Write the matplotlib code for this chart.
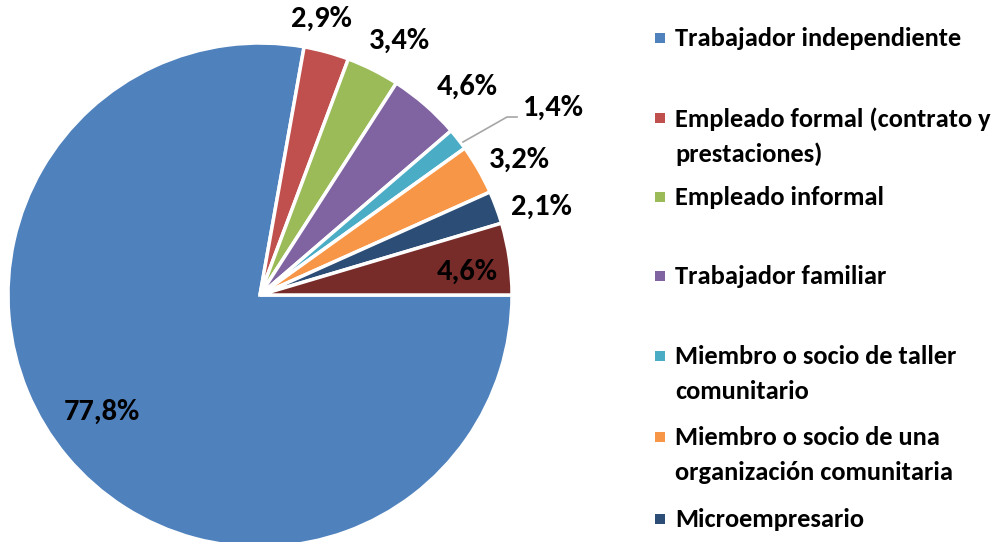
"""
Gráfico de torta - distribución por tipo de ocupación
"""
import numpy as np
import matplotlib.pyplot as plt
from matplotlib import rcParams

rcParams['font.family'] = ['Carlito', 'DejaVu Sans']
rcParams['font.weight'] = 'bold'

# datos
categorias = [
    'Trabajador independiente',
    'Empleado formal (contrato y\nprestaciones)',
    'Empleado informal',
    'Trabajador familiar',
    'Miembro o socio de taller\ncomunitario',
    'Miembro o socio de una\norganización comunitaria',
    'Microempresario',
]
valores = [77.8, 2.9, 3.4, 4.6, 1.4, 3.2, 2.1, 4.6]
colores = ['#4F81BD', '#C0504D', '#9BBB59', '#8064A2', '#4BACC6',
           '#F79646', '#2C4D75', '#772C2A']

W, H = 995, 542
CX, CY, R = 260, 295, 252


def px(x, y):
    # pixeles (desde arriba-izquierda) -> coordenadas de datos
    return (x - CX) / R, (CY - y) / R


fig = plt.figure(figsize=(W / 100, H / 100), dpi=100)
ax = fig.add_axes([0, 0, 1, 1])

wedges, _ = ax.pie(valores, colors=colores, startangle=0, counterclock=False,
                   radius=1, wedgeprops=dict(edgecolor='white', linewidth=2.5))
ax.set_aspect('auto')
ax.set_xlim(-CX / R, (W - CX) / R)
ax.set_ylim(-(H - CY) / R, CY / R)
ax.set_axis_off()

# etiquetas de porcentaje
pos_etiquetas = [(102, 412), (321, 19), (399, 41), (467, 87), (553, 108),
                 (519, 160), (541, 207), (467, 272)]
for v, (x, y) in zip(valores, pos_etiquetas):
    ax.text(*px(x, y), f'{v:.1f}%'.replace('.', ','), ha='center', va='center',
            fontsize=22, fontweight='bold', color='black')

# línea guía para 1,4%
lx, ly = zip(px(463, 142), px(507, 117), px(517, 117))
ax.plot(lx, ly, color='#A6A6A6', linewidth=1.2)

# leyenda manual
marcas_y = [38, 118, 197, 276, 356, 437, 519]
for cat, col, my in zip(categorias, colores, marcas_y):
    fig.patches.append(plt.Rectangle((655 / W, 1 - (my + 5) / H), 10 / W, 10 / H,
                                     transform=fig.transFigure, facecolor=col,
                                     edgecolor='none'))
    fig.text(675 / W, 1 - (my - 11) / H, cat, ha='left', va='top',
             fontsize=19, fontweight='bold', linespacing=1.62)

fig.savefig('out.png', dpi=100)
plt.close(fig)
